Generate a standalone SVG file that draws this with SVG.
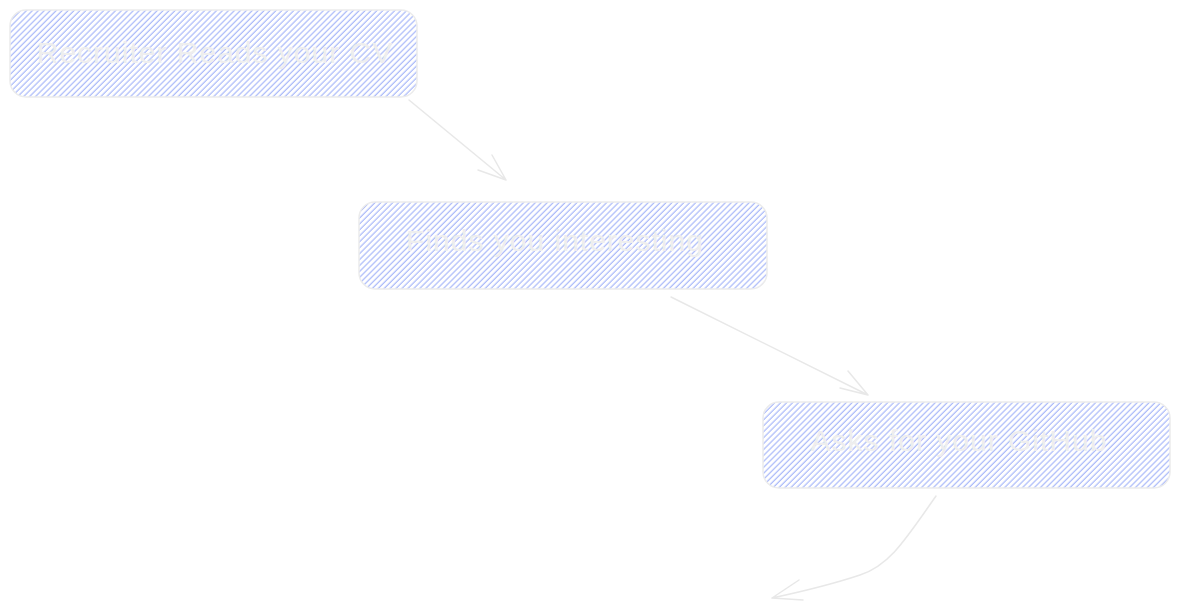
<svg xmlns="http://www.w3.org/2000/svg" width="1179" height="608" viewBox="0 0 1179 608">
<defs>
<pattern id="hach" width="4.2" height="4.2" patternUnits="userSpaceOnUse" patternTransform="rotate(45)">
<line x1="1" y1="0" x2="1" y2="4.2" stroke="#98aaf8" stroke-width="1"/>
</pattern>
<style>
.box{fill:url(#hach);stroke:#ececec;stroke-width:1.5}
.lbl{font-family:"Liberation Sans",sans-serif;font-size:30px;fill:#eeeeee;text-anchor:middle;dominant-baseline:central;letter-spacing:1px}
.conn{fill:none;stroke:#e8e8e8;stroke-width:1.5;stroke-linecap:round;stroke-linejoin:round}
</style>
</defs>
<g id="node-recruiter">
<rect class="box" x="10" y="10" width="407" height="87" rx="16"/>
<text class="lbl" x="215" y="52">Recruiter Reads your CV</text>
</g>
<g id="node-finds">
<rect class="box" x="359" y="202" width="408" height="87" rx="16"/>
<text class="lbl" x="555" y="240">Finds you interesting</text>
</g>
<g id="node-asks">
<rect class="box" x="763" y="402" width="407" height="86" rx="16"/>
<text class="lbl" x="959" y="440">Asks for your GitHub</text>
</g>
<g id="connectors">
<path class="conn" d="M409 100 L506 180 M478 170 L506 180 L492 155"/>
<path class="conn" d="M671 297 L868 395 M840 388 L868 395 L848 371"/>
<path class="conn" d="M936 496 C905 540 890 565 860 575 C830 585 800 592 772 598 M799 580 L772 598 L803 600"/>
</g>
</svg>
